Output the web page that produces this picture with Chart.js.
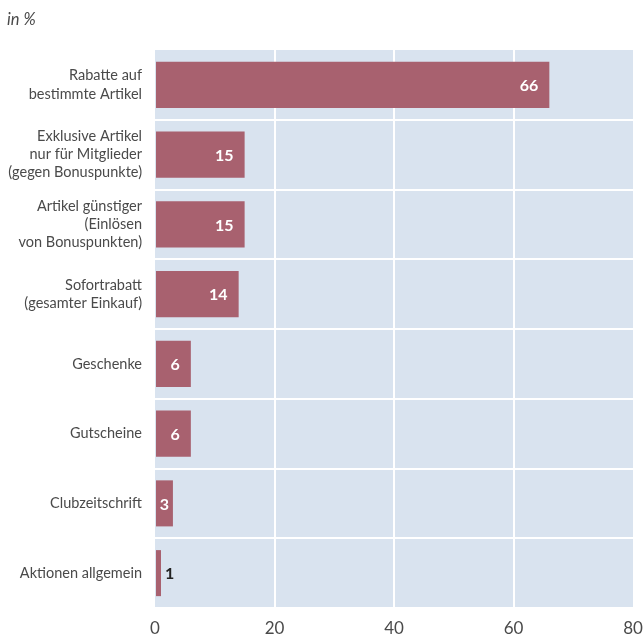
<!DOCTYPE html>
<html>
<head>
<meta charset="utf-8">
<script src="https://cdn.jsdelivr.net/npm/chart.js@4/dist/chart.umd.min.js"></script>
<style>
  html, body { margin: 0; padding: 0; background: #fff; }
  #wrap { width: 643px; height: 640px; }
</style>
</head>
<body>
<div id="wrap"><canvas id="c" width="643" height="640"></canvas></div>
<script>
const categories = [
  ["Rabatte auf", "bestimmte Artikel"],
  ["Exklusive Artikel", "nur für Mitglieder", "(gegen Bonuspunkte)"],
  ["Artikel günstiger", "(Einlösen", "von Bonuspunkten)"],
  ["Sofortrabatt", "(gesamter Einkauf)"],
  "Geschenke",
  "Gutscheine",
  "Clubzeitschrift",
  "Aktionen allgemein"
];
const values = [66, 15, 15, 14, 6, 6, 3, 1];
const xTicks = [0, 20, 40, 60, 80];
const unitLabel = "in %";

const FONT = "Lato, 'Open Sans', sans-serif";
const BAR = "#a8616f";
const PANEL = "#d9e3ef";
const TEXT = "#4a4a4a";

const panelBg = {
  id: "panelBg",
  beforeDraw(chart) {
    const { ctx, chartArea: a } = chart;
    ctx.save();
    ctx.fillStyle = PANEL;
    ctx.fillRect(a.left, a.top, a.right - a.left, a.bottom - a.top);
    ctx.restore();
  }
};

const unitText = {
  id: "unitText",
  afterDraw(chart) {
    const ctx = chart.ctx;
    ctx.save();
    ctx.font = "italic 16.5px " + FONT;
    ctx.fillStyle = TEXT;
    ctx.textAlign = "left";
    ctx.textBaseline = "alphabetic";
    ctx.fillText(unitLabel, 7, 25);
    ctx.restore();
  }
};

// value labels: white inside the bar, dark just outside when the bar is too short
const valueLabels = {
  id: "valueLabels",
  afterDatasetsDraw(chart) {
    const ctx = chart.ctx;
    const meta = chart.getDatasetMeta(0);
    ctx.save();
    ctx.font = "bold 16px " + FONT;
    ctx.textBaseline = "middle";
    meta.data.forEach((bar, i) => {
      const v = values[i];
      const w = bar.x - bar.base;
      const tw = ctx.measureText(String(v)).width;
      if (w >= tw + 22) {
        ctx.fillStyle = "#ffffff";
        ctx.textAlign = "right";
        ctx.fillText(String(v), bar.x - 11, bar.y + 1);
      } else if (w >= tw + 6) {
        ctx.fillStyle = "#ffffff";
        ctx.textAlign = "center";
        ctx.fillText(String(v), bar.base + w / 2, bar.y + 1);
      } else {
        ctx.fillStyle = "#222222";
        ctx.textAlign = "left";
        ctx.fillText(String(v), bar.x + 4, bar.y + 1);
      }
    });
    ctx.restore();
  }
};

new Chart(document.getElementById("c"), {
  type: "bar",
  data: {
    labels: categories,
    datasets: [{
      data: values,
      backgroundColor: BAR,
      borderWidth: 0,
      categoryPercentage: 1,
      barPercentage: 0.66
    }]
  },
  options: {
    indexAxis: "y",
    responsive: false,
    animation: false,
    devicePixelRatio: 1,
    layout: { padding: { top: 50, right: 10, left: 0, bottom: 0 } },
    plugins: { legend: { display: false }, tooltip: { enabled: false } },
    scales: {
      x: {
        min: 0, max: 80,
        afterBuildTicks(scale) { scale.ticks = xTicks.map(v => ({ value: v })); },
        afterFit(scale) { scale.height = 32; scale.paddingLeft = 0; scale.paddingRight = 0; },
        border: { display: false },
        grid: {
          drawTicks: false,
          lineWidth: 2,
          color: ctx => (ctx.index === 0 || ctx.index === xTicks.length - 1) ? "rgba(0,0,0,0)" : "#ffffff"
        },
        ticks: { color: TEXT, font: { family: FONT, size: 17 }, padding: 10, maxRotation: 0 }
      },
      y: {
        afterFit(scale) { scale.width = 155; scale.paddingTop = 0; scale.paddingBottom = 0; },
        border: { display: false },
        grid: {
          drawTicks: false,
          lineWidth: 2,
          color: ctx => (ctx.index === 0) ? "rgba(0,0,0,0)" : "#ffffff"
        },
        ticks: { color: TEXT, font: { family: FONT, size: 14.5, lineHeight: 1.25 }, padding: 13 }
      }
    }
  },
  plugins: [panelBg, unitText, valueLabels]
});
</script>
</body>
</html>
